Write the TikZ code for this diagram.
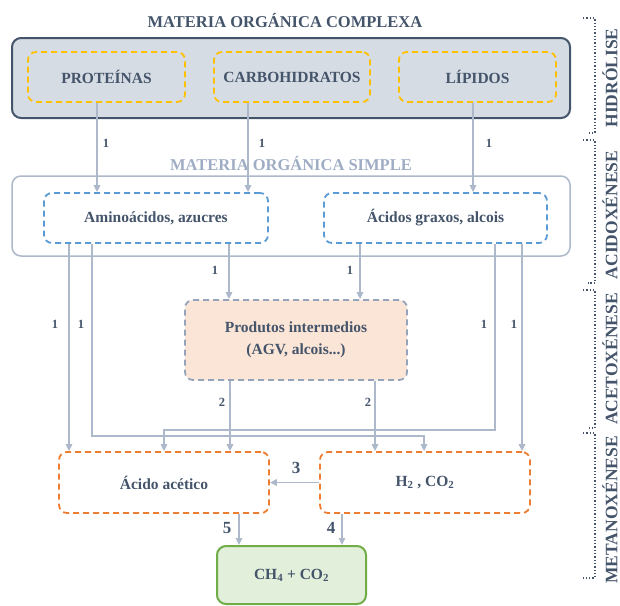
\documentclass[tikz,border=0pt]{standalone}
\usepackage{fontspec}
\setmainfont{Liberation Serif}
\usetikzlibrary{arrows.meta}
\definecolor{slate}{HTML}{44546A}
\definecolor{flowc}{HTML}{ADB9CA}
\definecolor{softc}{HTML}{9FADC4}
\definecolor{yelc}{HTML}{FFC000}
\definecolor{bluec}{HTML}{5B9BD5}
\definecolor{orac}{HTML}{ED7D31}
\definecolor{grnc}{HTML}{70AD47}

\begin{document}
\begin{tikzpicture}[x=1pt,y=-1pt,
  flow/.style={draw=flowc, line width=1.5pt, -{Triangle[length=7pt,width=6.5pt]}},
  num/.style={text=slate, font=\fontsize{12.5}{14}\selectfont\bfseries, inner sep=0pt},
  bignum/.style={text=slate, font=\fontsize{17}{19}\selectfont\bfseries, inner sep=0pt},
  stage/.style={text=slate, font=\fontsize{17.5}{19}\selectfont\bfseries, rotate=90, inner sep=0pt},
  brace/.style={draw=slate, dotted, line width=1.3pt},
  sub/.style={draw, rounded corners=8pt, line width=1.8pt, dash pattern=on 6pt off 4pt,
    inner sep=0pt, text=slate, font=\fontsize{15.5}{22}\selectfont\bfseries},
  group/.style={draw, rounded corners=9pt, inner sep=0pt}]

\useasboundingbox (0,0) rectangle (620,605);

% hidrolise
\node[text=slate, font=\fontsize{16.5}{19}\selectfont\bfseries] (complexa) at (285,21) {MATERIA ORGÁNICA COMPLEXA};
\node[group, draw=slate, fill={rgb,255:red,214;green,220;blue,228}, line width=2pt, minimum width=558pt, minimum height=80pt] (boxc) at (291,78) {};
\node[sub, draw=yelc, minimum width=157pt, minimum height=50pt] (prot) at (106.5,77) {PROTEÍNAS};
\node[sub, draw=yelc, minimum width=156pt, minimum height=50pt] (carb) at (292,77) {CARBOHIDRATOS};
\node[sub, draw=yelc, minimum width=157pt, minimum height=50pt] (lip) at (477.5,77) {LÍPIDOS};

% acidoxenese
\node[text=softc, font=\fontsize{16.5}{19}\selectfont\bfseries] (simple) at (291,163) {MATERIA ORGÁNICA SIMPLE};
\node[group, draw=flowc, fill=white, line width=1.5pt, minimum width=558pt, minimum height=80pt] (boxs) at (291,216) {};
\node[sub, draw=bluec, minimum width=224pt, minimum height=50pt] (amino) at (156,218) {Aminoácidos, azucres};
\node[sub, draw=bluec, minimum width=223pt, minimum height=50pt] (graxos) at (435.5,218) {Ácidos graxos, alcois};

% acetoxenese
\node[sub, draw=softc!90!slate, fill={rgb,255:red,251;green,229;blue,214}, minimum width=222pt, minimum height=80pt, align=center]
  (prod) at (296,340) {Produtos intermedios\\(AGV, alcois...)};

% metanoxenese
\node[sub, draw=orac, minimum width=210pt, minimum height=61pt] (acet) at (164,482.5) {Ácido acético};
\node[sub, draw=orac, minimum width=210pt, minimum height=61pt] (htwo) at (425,482.5) {H\textsubscript{2} , CO\textsubscript{2}};
\node[group, draw=grnc, fill={rgb,255:red,226;green,239;blue,218}, line width=2pt, text=slate,
  font=\fontsize{15.5}{17}\selectfont\bfseries, minimum width=149pt, minimum height=58pt] (gas) at (291.5,575) {CH\textsubscript{4} + CO\textsubscript{2}};

% frechas
\draw[flow] (prot.south -| 97,0) -- (amino.north -| 97,0);
\draw[flow] (carb.south -| 248,0) -- (amino.north -| 248,0);
\draw[flow] (lip.south -| 473,0) -- (graxos.north -| 473,0);
\node[num] at (106,143) {1};
\node[num] at (262,143) {1};
\node[num] at (489,143) {1};

\draw[flow] (amino.south -| 229,0) -- (prod.north -| 229,0);
\draw[flow] (graxos.south -| 360,0) -- (prod.north -| 360,0);
\node[num] at (215,270) {1};
\node[num] at (350,270) {1};

\draw[flow] (amino.south -| 69,0) -- (acet.north -| 69,0);
\draw[flow] (amino.south -| 92,0) -- (92,436) -- (424,436) -- (htwo.north -| 424,0);
\draw[flow] (graxos.south -| 495,0) -- (495,430) -- (164,430) -- (acet.north -| 164,0);
\draw[flow] (graxos.south -| 522,0) -- (htwo.north -| 522,0);
\node[num] at (55,324) {1};
\node[num] at (81,324) {1};
\node[num] at (484,324) {1};
\node[num] at (514,324) {1};

\draw[flow] (prod.south -| 230,0) -- (acet.north -| 230,0);
\draw[flow] (prod.south -| 375,0) -- (htwo.north -| 375,0);
\node[num] at (222,402) {2};
\node[num] at (368,402) {2};

\draw[flow] (htwo.west) -- (acet.east);
\node[bignum] at (296,468) {3};
\draw[flow] (acet.south -| 239,0) -- (gas.north -| 239,0);
\draw[flow] (htwo.south -| 342,0) -- (gas.north -| 342,0);
\node[bignum] at (227,528) {5};
\node[bignum] at (331,528) {4};

% etapas
\draw[brace] (583,18) -- (595,18) -- (595,133) -- (588,133);
\draw[brace] (583,140) -- (595,140) -- (595,283) -- (588,283);
\draw[brace] (583,290) -- (595,290) -- (595,428) -- (588,428);
\draw[brace] (583,433) -- (595,433) -- (595,578) -- (583,578);
\node[stage] (hidro) at (610,78) {HIDRÓLISE};
\node[stage] (acido) at (610,215) {ACIDOXÉNESE};
\node[stage] (aceto) at (610,359) {ACETOXÉNESE};
\node[stage] (metano) at (610,510) {METANOXÉNESE};

\end{tikzpicture}
\end{document}
